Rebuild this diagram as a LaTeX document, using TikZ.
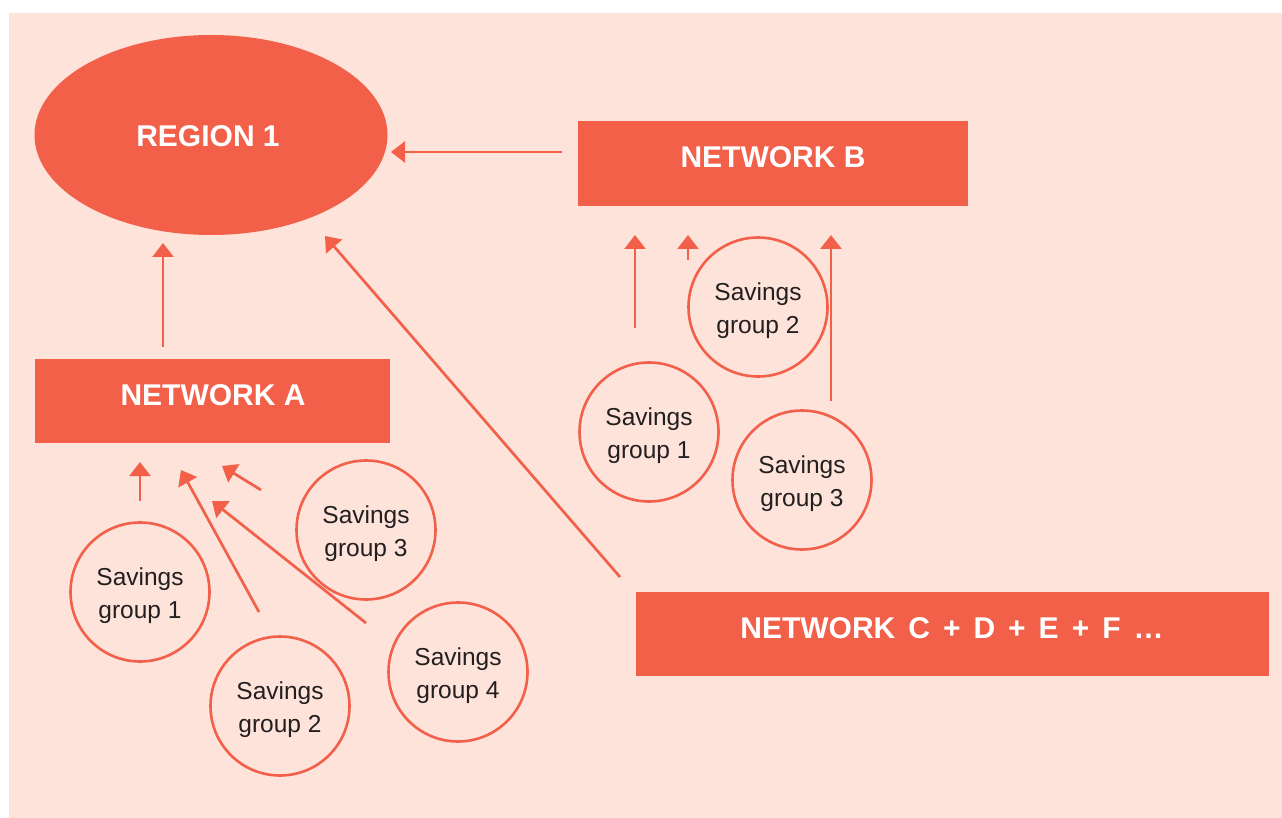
\documentclass[tikz,border=0pt]{standalone}
\usepackage{fontspec}
\setmainfont{Liberation Sans}
\usetikzlibrary{arrows.meta,shapes.geometric}
\definecolor{salmon}{HTML}{F2604A}
\definecolor{bgpink}{HTML}{FDE3DA}
\definecolor{txt}{HTML}{231F20}
\tikzset{
  bigbox/.style={fill=salmon,draw=none,inner sep=0pt},
  biglabel/.style={text=white,font=\fontsize{30}{34}\selectfont\bfseries},
  sgroup/.style={circle,draw=salmon,line width=2.6pt,minimum size=139pt,inner sep=0pt},
  sgtext/.style={align=center,text=txt,font=\fontsize{24.5}{33}\selectfont,yshift=-4pt},
  conn/.style={draw=salmon,line width=2.7pt,-{Triangle[width=21pt,length=14pt]}},
}
\begin{document}
\begin{tikzpicture}[x=1pt,y=-1pt]
\useasboundingbox (0,0) rectangle (1282,818);
\fill[bgpink] (9,13) rectangle (1282,818);
% main shapes
\node[ellipse,fill=salmon,minimum width=353pt,minimum height=200pt,inner sep=0pt] (region) at (211,135) {};
\node[biglabel] at (208,136) {REGION 1};
\path[bigbox] (578,121) rectangle (968,206);
\node[biglabel] (netB) at (773,157) {NETWORK B};
\path[bigbox] (35,359) rectangle (390,443);
\node[biglabel] (netA) at (213,395) {NETWORK A};
\path[bigbox] (636,592) rectangle (1269,676);
\node[biglabel] (netC) at (952,628) {\spaceskip=13pt NETWORK C + D + E + F \dots};
% savings groups A
\node[sgroup] (a1) at (140,592) {}; \node[sgtext] at (a1) {Savings\\group 1};
\node[sgroup] (a2) at (280,706) {}; \node[sgtext] at (a2) {Savings\\group 2};
\node[sgroup] (a3) at (366,530) {}; \node[sgtext] at (a3) {Savings\\group 3};
\node[sgroup] (a4) at (458,672) {}; \node[sgtext] at (a4) {Savings\\group 4};
% savings groups B
\node[sgroup] (b1) at (649,432) {}; \node[sgtext] at (b1) {Savings\\group 1};
\node[sgroup] (b2) at (758,307) {}; \node[sgtext] at (b2) {Savings\\group 2};
\node[sgroup] (b3) at (802,480) {}; \node[sgtext] at (b3) {Savings\\group 3};
% arrow endpoints
\coordinate (bR0) at (562,152); \coordinate (bR1) at (391,152);
\coordinate (aR0) at (163,347); \coordinate (aR1) at (163,243);
\coordinate (cR0) at (620,577); \coordinate (cR1) at (325,236);
\coordinate (a10) at (140,501); \coordinate (a11) at (140,462);
\coordinate (a20) at (259,612); \coordinate (a21) at (181,470);
\coordinate (a40) at (366,623); \coordinate (a41) at (212,501);
\coordinate (a30) at (261,490); \coordinate (a31) at (222,466);
\coordinate (b10) at (635,328); \coordinate (b11) at (635,235);
\coordinate (b20) at (688,260); \coordinate (b21) at (688,235);
\coordinate (b30) at (831,401); \coordinate (b31) at (831,235);
\draw[conn] (bR0) -- (bR1);
\draw[conn] (aR0) -- (aR1);
\draw[conn] (cR0) -- (cR1);
\draw[conn] (a10) -- (a11);
\draw[conn] (a20) -- (a21);
\draw[conn] (a40) -- (a41);
\draw[conn] (a30) -- (a31);
\draw[conn] (b10) -- (b11);
\draw[conn] (b20) -- (b21);
\draw[conn] (b30) -- (b31);
\end{tikzpicture}
\end{document}
